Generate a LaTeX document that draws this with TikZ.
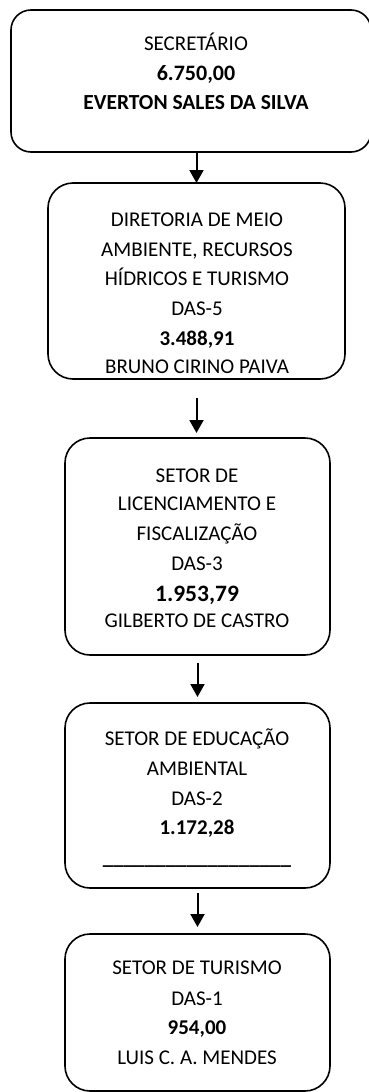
\documentclass[tikz,border=0pt]{standalone}
\usepackage{fontspec}
\setmainfont{Carlito}
\usetikzlibrary{arrows.meta}
\begin{document}
\begin{tikzpicture}[x=1pt,y=-1pt,
  box/.style={draw=black,line width=1.6pt,rounded corners=25pt,inner sep=0pt,outer sep=0pt},
  txt/.style={anchor=base,inner sep=0pt,font=\fontsize{21}{25}\selectfont},
  btxt/.style={txt,font=\fontsize{21}{25}\selectfont\bfseries},
  bigtxt/.style={txt,font=\fontsize{23.5}{28}\selectfont\bfseries},
  conn/.style={line width=2pt,-{Triangle[width=14pt,length=13pt]}}]
\useasboundingbox (0,0) rectangle (369,1092);
% boxes
\node[box,rounded corners=20pt,minimum width=360pt,minimum height=142pt] (b1) at (191,81) {};
\node[box,minimum width=297pt,minimum height=196pt] (b2) at (196.5,281) {};
\node[box,minimum width=265pt,minimum height=217pt] (b3) at (197.5,546.5) {};
\node[box,minimum width=265pt,minimum height=185pt] (b4) at (197.5,795.5) {};
\node[box,minimum width=265pt,minimum height=157pt] (b5) at (197.5,1012.5) {};
% texts box 1
\node[txt] (t1a) at (196,50) {SECRETÁRIO};
\node[btxt,font=\fontsize{22}{26}\selectfont\bfseries] (t1b) at (196,80) {6.750,00};
\node[btxt,font=\fontsize{21.5}{26}\selectfont\bfseries] (t1c) at (196,109) {EVERTON SALES DA SILVA};
% box 2
\node[txt] (t2a) at (197,226) {DIRETORIA DE MEIO};
\node[txt] (t2b) at (197,256) {AMBIENTE, RECURSOS};
\node[txt] (t2c) at (197,285) {HÍDRICOS E TURISMO};
\node[txt] (t2d) at (197,315) {DAS-5};
\node[btxt] (t2e) at (197,345) {3.488,91};
\node[txt] (t2f) at (197,373) {BRUNO CIRINO PAIVA};
% box 3
\node[txt] (t3a) at (197,482) {SETOR DE};
\node[txt] (t3b) at (197,510) {LICENCIAMENTO E};
\node[txt] (t3c) at (197,540) {FISCALIZAÇÃO};
\node[txt] (t3d) at (197,570) {DAS-3};
\node[bigtxt] (t3e) at (197,601) {1.953,79};
\node[txt] (t3f) at (197,627) {GILBERTO DE CASTRO};
% box 4
\node[txt] (t4a) at (197,745) {SETOR DE EDUCAÇÃO};
\node[txt] (t4b) at (197,775) {AMBIENTAL};
\node[txt] (t4c) at (197,805) {DAS-2};
\node[btxt] (t4d) at (197,834) {1.172,28};
\node[btxt] (t4e) at (197,864) {\_\_\_\_\_\_\_\_\_\_\_\_\_\_\_\_\_\_};
% box 5
\node[txt] (t5a) at (197,974) {SETOR DE TURISMO};
\node[txt] (t5b) at (197,1005) {DAS-1};
\node[btxt] (t5c) at (197,1034) {954,00};
\node[txt] (t5d) at (197,1064) {LUIS C. A. MENDES};
% connectors
\draw[conn] (b1.south -| b2.north) -- (b2.north);
\draw[conn,shorten <=19pt,shorten >=5pt] (b2.south) -- (b2.south |- b3.north);
\draw[conn,shorten <=8pt,shorten >=6pt] (b3.south) -- (b4.north);
\draw[conn,shorten <=5pt,shorten >=7pt] (b4.south) -- (b5.north);
\end{tikzpicture}
\end{document}
